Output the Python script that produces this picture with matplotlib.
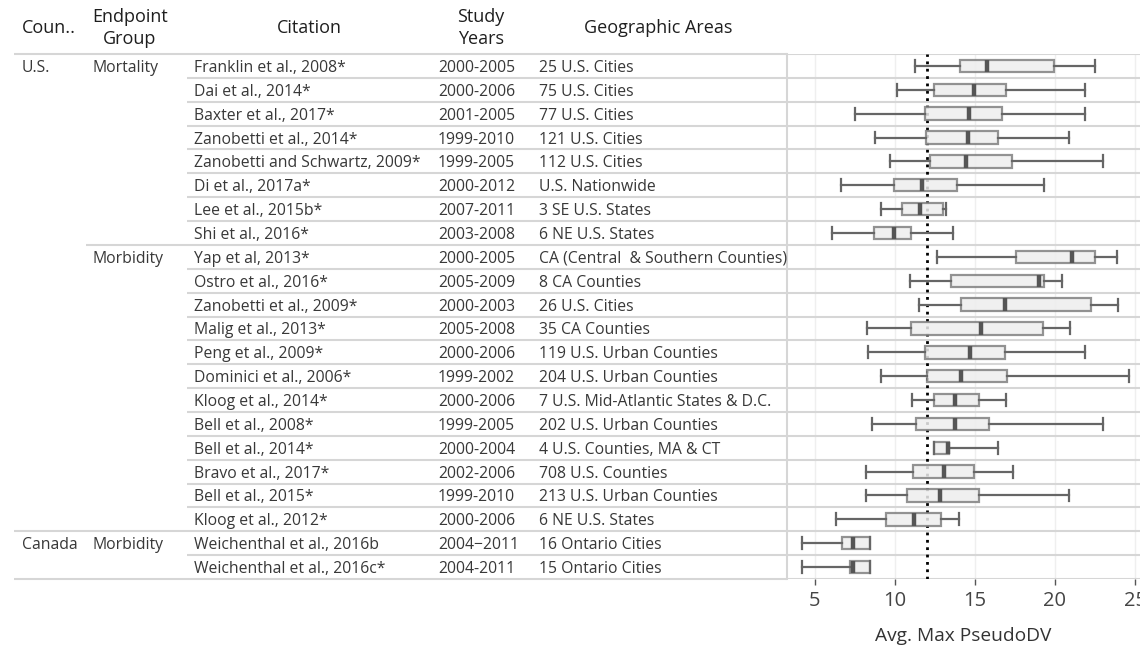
import matplotlib
matplotlib.use("Agg")
import matplotlib.pyplot as plt

plt.rcParams['font.family'] = ['Open Sans', 'DejaVu Sans']

# ---- data -------------------------------------------------------------
countries = ["U.S."] * 20 + ["Canada"] * 2
endpoints = ["Mortality"] * 8 + ["Morbidity"] * 12 + ["Morbidity"] * 2
citations = [
    "Franklin et al., 2008*", "Dai et al., 2014*", "Baxter et al., 2017*",
    "Zanobetti et al., 2014*", "Zanobetti and Schwartz, 2009*", "Di et al., 2017a*",
    "Lee et al., 2015b*", "Shi et al., 2016*", "Yap et al, 2013*",
    "Ostro et al., 2016*", "Zanobetti et al., 2009*", "Malig et al., 2013*",
    "Peng et al., 2009*", "Dominici et al., 2006*", "Kloog et al., 2014*",
    "Bell et al., 2008*", "Bell et al., 2014*", "Bravo et al., 2017*",
    "Bell et al., 2015*", "Kloog et al., 2012*", "Weichenthal et al., 2016b",
    "Weichenthal et al., 2016c*",
]
study_years = [
    "2000-2005", "2000-2006", "2001-2005", "1999-2010", "1999-2005", "2000-2012",
    "2007-2011", "2003-2008", "2000-2005", "2005-2009", "2000-2003", "2005-2008",
    "2000-2006", "1999-2002", "2000-2006", "1999-2005", "2000-2004", "2002-2006",
    "1999-2010", "2000-2006", "2004\u22122011", "2004-2011",
]
areas = [
    "25 U.S. Cities", "75 U.S. Cities", "77 U.S. Cities", "121 U.S. Cities",
    "112 U.S. Cities", "U.S. Nationwide", "3 SE U.S. States", "6 NE U.S. States",
    "CA (Central  & Southern Counties)", "8 CA Counties", "26 U.S. Cities",
    "35 CA Counties", "119 U.S. Urban Counties", "204 U.S. Urban Counties",
    "7 U.S. Mid-Atlantic States & D.C.", "202 U.S. Urban Counties",
    "4 U.S. Counties, MA & CT", "708 U.S. Counties", "213 U.S. Urban Counties",
    "6 NE U.S. States", "16 Ontario Cities", "15 Ontario Cities",
]
whisker_low = [11.23, 10.11, 7.51, 8.78, 9.67, 6.60, 9.15, 6.08, 12.64, 10.94, 11.52,
               8.26, 8.32, 9.13, 11.08, 8.55, 12.41, 8.18, 8.18, 6.31, 4.21, 4.21]
q1 = [14.08, 12.41, 11.85, 11.92, 12.17, 9.96, 10.46, 8.70, 17.59, 13.47, 14.10,
      11.02, 11.85, 12.00, 12.41, 11.29, 12.41, 11.15, 10.77, 9.44, 6.70, 7.18]
median = [15.74, 14.93, 14.64, 14.57, 14.41, 11.71, 11.56, 9.94, 21.05, 18.98, 16.88,
          15.38, 14.70, 14.12, 13.74, 13.74, 13.31, 13.06, 12.83, 11.19, 7.39, 7.38]
q3 = [19.95, 16.94, 16.69, 16.42, 17.32, 13.87, 13.00, 10.98, 22.51, 19.30, 22.24,
      19.25, 16.86, 17.02, 15.24, 15.88, 13.37, 14.93, 15.28, 12.89, 8.43, 8.43]
whisker_high = [22.51, 21.90, 21.90, 20.89, 22.97, 19.33, 13.16, 13.62, 23.86, 20.43,
                23.94, 20.95, 21.90, 24.63, 16.92, 22.97, 16.42, 17.40, 20.89, 14.01,
                8.43, 8.43]
reference_value = 12.0
x_ticks = [5, 10, 15, 20, 25]
x_label = "Avg. Max PseudoDV"
headers = [("Coun..", 49), ("Endpoint\nGroup", 130), ("Citation", 309),
           ("Study\nYears", 481), ("Geographic Areas", 658)]

# ---- layout (pixels) ----------------------------------------------------
W, H, DPI = 1140, 647, 100
TOP, BOTTOM = 54, 579
SPLIT = 787
n = len(citations)
row_px = (BOTTOM - TOP) / n

fig = plt.figure(figsize=(W / DPI, H / DPI), dpi=DPI)
fig.patch.set_facecolor("white")

ax = fig.add_axes([SPLIT / W, 1 - BOTTOM / H, (W - SPLIT) / W, (BOTTOM - TOP) / H])
tab = fig.add_axes([0, 1 - BOTTOM / H, SPLIT / W, (BOTTOM - TOP) / H], sharey=ax)
tab.set_xlim(0, SPLIT)
tab.axis("off")
ax.set_zorder(tab.get_zorder() - 1)

positions = list(range(1, n + 1))
ax.set_ylim(n + 0.5, 0.5)
ax.set_xlim(5 - (815 - SPLIT) / 16.02, 25 + (W - 1135) / 16.02)

line_col = "#d6d6d6"
text_col = "#383838"

# ---- boxes --------------------------------------------------------------
stats = [dict(whislo=a, q1=b, med=c, q3=d, whishi=e)
         for a, b, c, d, e in zip(whisker_low, q1, median, q3, whisker_high)]
ax.bxp(stats, positions=positions, orientation="horizontal", widths=0.52,
       capwidths=0.5, showfliers=False, patch_artist=True,
       boxprops=dict(facecolor="#eeeeee", edgecolor="#808080", linewidth=1.6, alpha=0.85),
       medianprops=dict(color="#555555", linewidth=3.2, solid_capstyle="butt"),
       whiskerprops=dict(color="#666666", linewidth=1.6),
       capprops=dict(color="#666666", linewidth=1.6),
       zorder=3)
ax.axvline(reference_value, color="black", linestyle=":", linewidth=2.0, zorder=2)

# ---- axes styling -------------------------------------------------------
for s in ("top", "right", "bottom"):
    ax.spines[s].set_visible(False)
ax.spines["left"].set_color(line_col)
ax.spines["left"].set_linewidth(1.5)
ax.set_xticks(x_ticks)
ax.set_xticklabels([str(t) for t in x_ticks])
ax.tick_params(axis="x", length=4, width=1, color="#555555", labelsize=14.5,
               labelcolor="#444444", pad=5)
ax.tick_params(axis="y", left=False, labelleft=False)
ax.grid(axis="x", color="#efefef", linewidth=1.0, zorder=0)
ax.set_axisbelow(True)
ax.set_xlabel(x_label, fontsize=13.8, color="#333333", labelpad=11)

# row separators across the plot area
for k in range(n + 1):
    ax.axhline(k + 0.5, color=line_col, linewidth=1.5, zorder=1)

# ---- table --------------------------------------------------------------
def px_to_row(y):
    return 0.5 + (y - TOP) / row_px

body_fs = 11.3
for i in range(n):
    y = positions[i]
    new_country = i == 0 or countries[i] != countries[i - 1]
    new_end = new_country or endpoints[i] != endpoints[i - 1]
    kw = dict(fontsize=body_fs, color=text_col, va="center_baseline")
    if new_country:
        tab.text(22, y, countries[i], **kw)
    if new_end:
        tab.text(93, y, endpoints[i], **kw)
    tab.text(194, y, citations[i], **kw)
    tab.text(438, y, study_years[i], **kw)
    tab.text(539, y, areas[i], **kw)

# separators: full width at country change, from endpoint column at group change
for i in range(n + 1):
    if i == 0 or i == n:
        x0 = 14
    elif countries[i] != countries[i - 1]:
        x0 = 14
    elif endpoints[i] != endpoints[i - 1]:
        x0 = 86
    else:
        x0 = 187
    tab.plot([x0, SPLIT], [i + 0.5, i + 0.5], color=line_col, linewidth=1.5,
             solid_capstyle="butt", clip_on=False)

for label, xc in headers:
    tab.text(xc, px_to_row(28), label, fontsize=13, color="#1e1e1e",
             ha="center", va="center", linespacing=1.25, fontweight="medium")

fig.savefig("out.png", dpi=DPI, facecolor="white")
